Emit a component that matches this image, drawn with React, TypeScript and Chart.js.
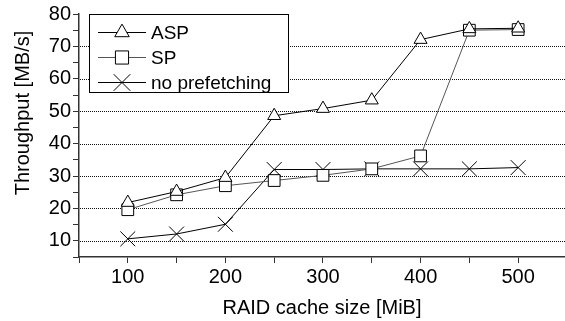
import React, { useEffect, useRef } from "react";
import { Chart, registerables } from "chart.js";

Chart.register(...registerables);

const cacheSizes = [100, 150, 200, 250, 300, 350, 400, 450, 500];
const aspValues = [21.8, 25.2, 29.5, 48.6, 50.8, 53.4, 72.1, 75.4, 75.6];
const spValues = [19.6, 24.2, 27.0, 28.6, 30.2, 32.2, 36.2, 75.0, 75.2];
const noPrefetchValues = [10.6, 12.1, 15.1, 32.0, 32.0, 32.2, 32.2, 32.2, 32.6];
const xLabelTicks = [100, 200, 300, 400, 500];
const yLabelTicks = [10, 20, 30, 40, 50, 60, 70, 80];
const yGridTicks = [10, 20, 30, 40, 50, 60, 70];
const seriesNames = ["ASP", "SP", "no prefetching"];
const xTitle = "RAID cache size [MiB]";
const yTitle = "Throughput [MB/s]";

const FONT = "'Liberation Sans', Arial, Helvetica, sans-serif";

function drawMarker(ctx: CanvasRenderingContext2D, style: string, x: number, y: number, r: number) {
  ctx.beginPath();
  if (style === "triangle") {
    for (let i = 0; i < 3; i++) {
      const a = (i * 2 * Math.PI) / 3;
      const px = x + Math.sin(a) * r;
      const py = y - Math.cos(a) * r;
      if (i === 0) ctx.moveTo(px, py);
      else ctx.lineTo(px, py);
    }
    ctx.closePath();
    ctx.fill();
    ctx.stroke();
  } else if (style === "rect") {
    const s = Math.SQRT1_2 * r;
    ctx.rect(x - s, y - s, 2 * s, 2 * s);
    ctx.fill();
    ctx.stroke();
  } else {
    const s = Math.SQRT1_2 * r;
    ctx.moveTo(x - s, y - s);
    ctx.lineTo(x + s, y + s);
    ctx.moveTo(x - s, y + s);
    ctx.lineTo(x + s, y - s);
    ctx.stroke();
  }
}

const chartPlugin = {
  id: "customDecor",
  beforeDatasetsDraw(chart: any) {
    const ctx = chart.ctx as CanvasRenderingContext2D;
    const y = chart.scales.y;
    const area = chart.chartArea;
    ctx.save();
    ctx.strokeStyle = "#111111";
    ctx.lineWidth = 1;
    ctx.setLineDash([1, 1]);
    yGridTicks.forEach((v) => {
      const py = Math.round(y.getPixelForValue(v)) + 0.5;
      ctx.beginPath();
      ctx.moveTo(area.left + 1, py);
      ctx.lineTo(area.right, py);
      ctx.stroke();
    });
    ctx.restore();
  },
  afterDatasetsDraw(chart: any) {
    const ctx = chart.ctx as CanvasRenderingContext2D;
    const left = 89.5;
    const top = 14.5;
    const w = 199;
    const h = 78;
    ctx.save();
    ctx.fillStyle = "#ffffff";
    ctx.strokeStyle = "#000000";
    ctx.lineWidth = 1;
    ctx.fillRect(left, top, w, h);
    ctx.strokeRect(left, top, w, h);
    const rows = [31.7, 56.7, 81.7];
    chart.data.datasets.forEach((ds: any, i: number) => {
      const y = Math.round(rows[i]) + 0.5;
      ctx.strokeStyle = ds.borderColor;
      ctx.lineWidth = 1;
      ctx.beginPath();
      ctx.moveTo(98, y);
      ctx.lineTo(146, y);
      ctx.stroke();
      ctx.fillStyle = "#ffffff";
      ctx.strokeStyle = "#000000";
      drawMarker(ctx, ds.pointStyle, 122, y, ds.pointRadius * 1.12);
      ctx.fillStyle = "#000000";
      ctx.font = `19px ${FONT}`;
      ctx.textBaseline = "middle";
      ctx.textAlign = "left";
      ctx.fillText(ds.label, 151, y + 1);
    });
    ctx.restore();
  },
  afterDraw(chart: any) {
    const ctx = chart.ctx as CanvasRenderingContext2D;
    ctx.save();
    ctx.translate(23, 113);
    ctx.rotate(-Math.PI / 2);
    ctx.fillStyle = "#000000";
    ctx.font = `20px ${FONT}`;
    ctx.textAlign = "center";
    ctx.textBaseline = "middle";
    ctx.fillText(yTitle, 0, 0);
    ctx.restore();
  },
};

export default function App() {
  const canvasRef = useRef<HTMLCanvasElement | null>(null);

  useEffect(() => {
    if (!canvasRef.current) return;
    const mk = (vals: number[]) => cacheSizes.map((x, i) => ({ x, y: vals[i] }));
    const chart = new Chart(canvasRef.current, {
      type: "line",
      data: {
        datasets: [
          {
            label: seriesNames[0],
            data: mk(aspValues),
            borderColor: "#000000",
            borderWidth: 1,
            pointStyle: "triangle",
            pointRadius: 7.5,
            pointBackgroundColor: "#ffffff",
            pointBorderColor: "#000000",
            pointBorderWidth: 1,
          },
          {
            label: seriesNames[1],
            data: mk(spValues),
            borderColor: "#555555",
            borderWidth: 1,
            pointStyle: "rect",
            pointRadius: 8.3,
            pointBackgroundColor: "#ffffff",
            pointBorderColor: "#000000",
            pointBorderWidth: 1,
          },
          {
            label: seriesNames[2],
            data: mk(noPrefetchValues),
            borderColor: "#000000",
            borderWidth: 1,
            pointStyle: "crossRot",
            pointRadius: 10.5,
            pointBackgroundColor: "#ffffff",
            pointBorderColor: "#000000",
            pointBorderWidth: 1,
          },
        ],
      },
      options: {
        animation: false,
        responsive: false,
        maintainAspectRatio: false,
        layout: { autoPadding: false, padding: { top: 14, right: 0, bottom: 0, left: 0 } },
        plugins: { legend: { display: false }, tooltip: { enabled: false } },
        scales: {
          x: {
            type: "linear",
            min: 50,
            max: 548,
            afterBuildTicks: (scale: any) => {
              const t: any[] = [];
              for (let v = 50; v <= 500; v += 50) t.push({ value: v });
              scale.ticks = t;
            },
            afterFit: (scale: any) => {
              scale.height = 64;
              scale.paddingLeft = 0;
              scale.paddingRight = 0;
            },
            ticks: {
              autoSkip: false,
              maxRotation: 0,
              padding: 2,
              color: "#000000",
              font: { family: FONT, size: 20 },
              callback: (v: any) => (xLabelTicks.includes(Number(v)) ? String(v) : ""),
            },
            grid: {
              drawOnChartArea: false,
              drawTicks: true,
              tickLength: 6,
              tickColor: "#333333",
              tickWidth: 1,
            },
            border: { color: "#333333", width: 1.5 },
            title: {
              display: true,
              text: xTitle,
              color: "#000000",
              font: { family: FONT, size: 20 },
              padding: { top: 0, bottom: 1 },
            },
          },
          y: {
            type: "linear",
            min: 5,
            max: 80,
            afterFit: (scale: any) => {
              scale.width = 79;
            },
            ticks: {
              stepSize: 5,
              autoSkip: false,
              padding: 2,
              color: "#000000",
              font: { family: FONT, size: 20 },
              callback: (v: any) => (yLabelTicks.includes(Number(v)) ? String(v) : ""),
            },
            grid: {
              drawOnChartArea: false,
              drawTicks: true,
              tickLength: 6,
              tickColor: "#333333",
              tickWidth: 1,
            },
            border: { color: "#333333", width: 1.5 },
            title: { display: false },
          },
        },
      },
      plugins: [chartPlugin],
    });
    return () => chart.destroy();
  }, []);

  return (
    <div style={{ position: "fixed", left: 0, top: 0, width: 565, height: 321, overflow: "hidden", background: "#fff" }}>
      <canvas ref={canvasRef} width={565} height={321} style={{ display: "block", width: 565, height: 321 }} />
    </div>
  );
}
